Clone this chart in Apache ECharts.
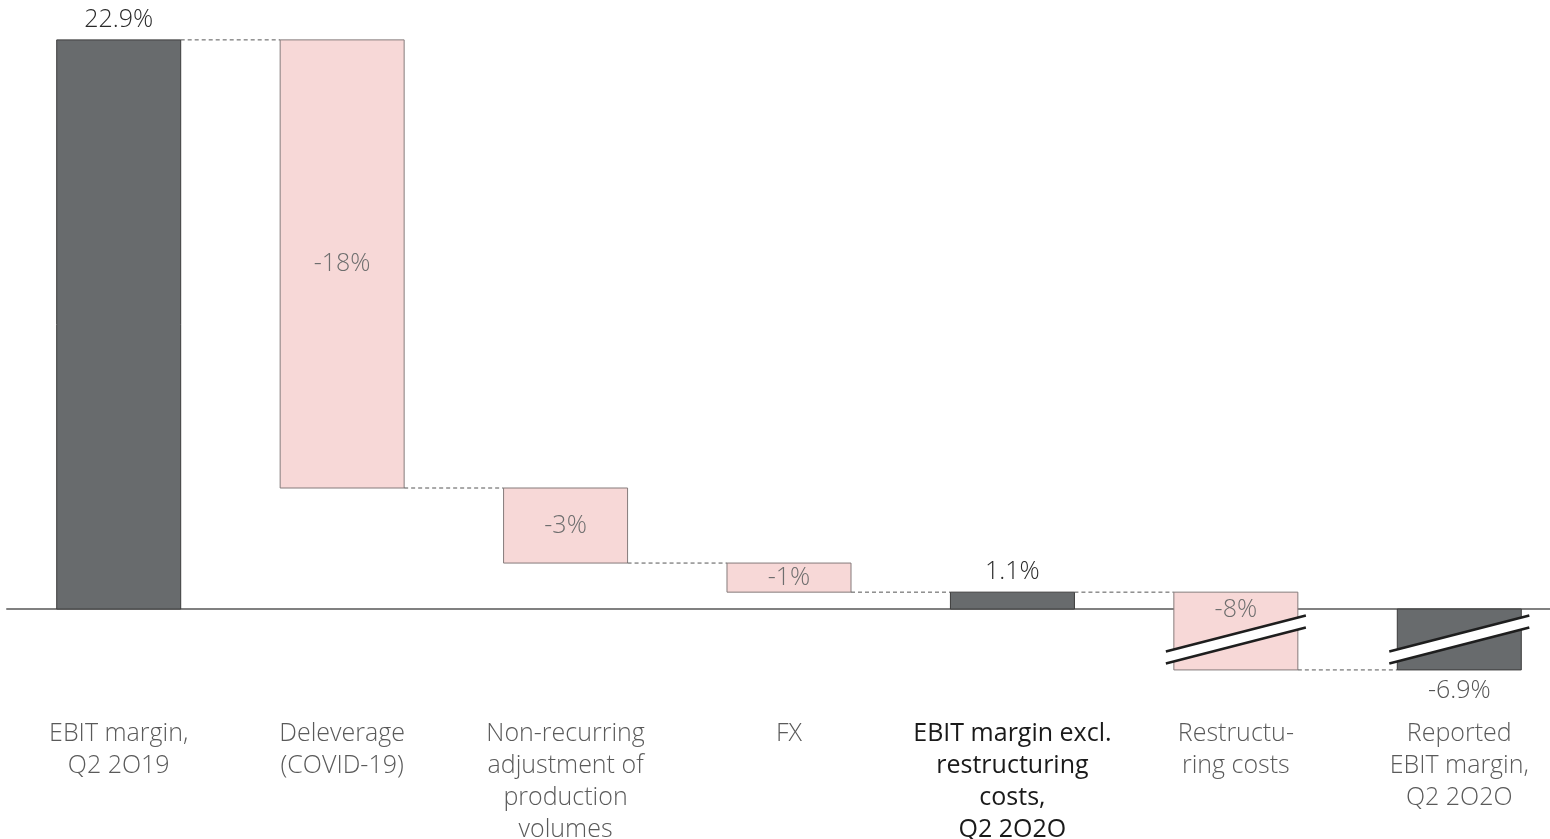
<!DOCTYPE html>
<html>
<head>
<meta charset="utf-8">
<script src="https://cdn.jsdelivr.net/npm/echarts@6/dist/echarts.min.js"></script>
<style>
  html, body { margin: 0; padding: 0; background: #fff; }
  #chart { width: 1550px; height: 839px; }
</style>
</head>
<body>
<div id="chart"></div>
<script>
// bar categories (x axis)
const categories = [
  'EBIT margin,\nQ2 2O19',
  'Deleverage\n(COVID-19)',
  'Non-recurring\nadjustment of\nproduction\nvolumes',
  'FX',
  'EBIT margin excl.\nrestructuring\ncosts,\nQ2 2O2O',
  'Restructu-\nring costs',
  'Reported\nEBIT margin,\nQ2 2O2O'
];
// drawn extent of each bar (% units)
const barStart = [0, 22.9, 4.87, 1.85, 0, 0.68, 0];
const barEnd = [22.9, 4.87, 1.85, 0.68, 0.68, -2.45, -2.45];
// total (dark) bars vs change (pink) bars
const isTotal = [true, false, false, false, true, false, true];
// bars drawn with an axis break
const isBroken = [false, false, false, false, false, true, true];
// value labels
const valueLabels = ['22.9%', '-18%', '-3%', '-1%', '1.1%', '-8%', '-6.9%'];

const FONT = '"Open Sans", Lato, sans-serif';
const DARK = '#686b6d';
const PINK = '#f7d8d7';

const chart = echarts.init(document.getElementById('chart'));

const renderItem = function (params, api) {
  const i = api.value(0);
  const lo = api.value(1);
  const hi = api.value(2);
  const band = api.size([1, 0])[0];
  const w = band * 0.555;
  const pHi = api.coord([i, Math.max(lo, hi)]);
  const pLo = api.coord([i, Math.min(lo, hi)]);
  const x = pHi[0] - w / 2;
  const total = isTotal[i];
  const children = [];

  children.push({
    type: 'rect',
    shape: { x: x, y: pHi[1], width: w, height: pLo[1] - pHi[1] },
    style: {
      fill: total ? DARK : PINK,
      stroke: total ? '#3c3c3c' : '#857b7b',
      lineWidth: 1
    }
  });

  // connector to the next bar
  if (i < categories.length - 1) {
    const end = api.coord([i, barEnd[i]]);
    const next = api.coord([i + 1, barEnd[i]]);
    children.push({
      type: 'line',
      shape: { x1: x + w, y1: end[1], x2: next[0] - w / 2, y2: next[1] },
      style: { stroke: '#555', lineWidth: 1, lineDash: [4, 3] }
    });
  }

  // axis break marks
  if (isBroken[i]) {
    const mid = api.coord([i, Math.min(lo, hi, 0) / 2]);
    const cx = mid[0];
    const cy = mid[1];
    const hw = w / 2 + 8;
    const rise = 18;
    const gap = 6;
    children.push({
      type: 'polygon',
      shape: {
        points: [
          [cx - hw, cy + rise - gap],
          [cx + hw, cy - rise - gap],
          [cx + hw, cy - rise + gap],
          [cx - hw, cy + rise + gap]
        ]
      },
      style: { fill: '#fff' }
    });
    children.push({
      type: 'line',
      shape: { x1: cx - hw, y1: cy + rise - gap, x2: cx + hw, y2: cy - rise - gap },
      style: { stroke: '#1e1e1e', lineWidth: 2.5 }
    });
    children.push({
      type: 'line',
      shape: { x1: cx - hw, y1: cy + rise + gap, x2: cx + hw, y2: cy - rise + gap },
      style: { stroke: '#1e1e1e', lineWidth: 2.5 }
    });
  }

  // value label
  let ty;
  let color = '#6e6e6e';
  if (total) {
    if (barEnd[i] >= 0) {
      ty = pHi[1] - 20;
      color = '#2a2a2a';
    } else {
      ty = pLo[1] + 21;
      color = '#555';
    }
  } else if (isBroken[i]) {
    ty = pHi[1] + 18;
  } else {
    ty = (pHi[1] + pLo[1]) / 2;
  }
  children.push({
    type: 'text',
    style: {
      x: pHi[0],
      y: ty,
      text: valueLabels[i],
      fill: color,
      font: '300 25px ' + FONT,
      align: 'center',
      verticalAlign: 'middle'
    }
  });

  return { type: 'group', children: children };
};

chart.setOption({
  animation: false,
  grid: { left: 7, top: 37.4, width: 1564, height: 681, outerBoundsMode: 'none', containLabel: false },
  xAxis: {
    type: 'category',
    data: categories.map((c, i) => i === 4
      ? { value: c, textStyle: { color: '#1a1a1a', fontWeight: 400 } }
      : c),
    axisTick: { show: false },
    axisLine: { onZero: true, lineStyle: { color: '#808080', width: 2 } },
    axisLabel: {
      interval: 0,
      margin: -1,
      fontSize: 25,
      lineHeight: 32,
      color: '#5a5a5a',
      fontFamily: FONT,
      fontWeight: 300
    }
  },
  yAxis: {
    type: 'value',
    min: -4.4,
    max: 23,
    show: false,
    splitLine: { show: false }
  },
  series: [{
    type: 'custom',
    clip: false,
    renderItem: renderItem,
    data: categories.map((c, i) => [i, barStart[i], barEnd[i]])
  }]
});
</script>
</body>
</html>
